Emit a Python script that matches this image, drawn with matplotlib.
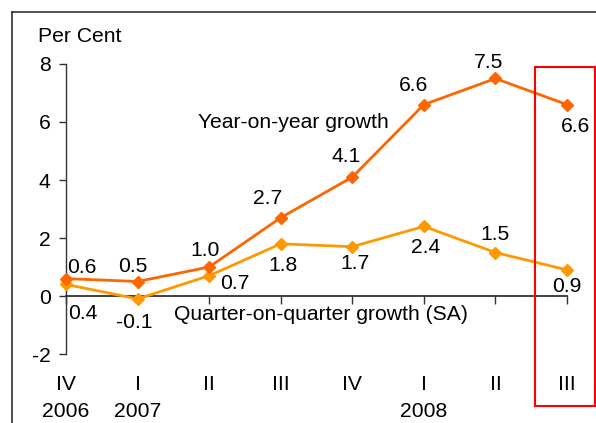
import matplotlib
matplotlib.use("Agg")
import matplotlib.pyplot as plt
from matplotlib.lines import Line2D
from matplotlib.patches import Rectangle

plt.rcParams['font.family'] = ['Liberation Sans', 'DejaVu Sans']

quarters = ["IV", "I", "II", "III", "IV", "I", "II", "III"]
years = {0: "2006", 1: "2007", 5: "2008"}
yoy = [0.6, 0.5, 1.0, 2.7, 4.1, 6.6, 7.5, 6.6]
qoq = [0.4, -0.1, 0.7, 1.8, 1.7, 2.4, 1.5, 0.9]

# label offsets in pixels (dx, dy) relative to points
yoy_off = [(16, 11), (-5, 15), (-4, 16), (-13, 19), (-6, 21), (-10, 19), (-7, 16), (8, -22)]
qoq_off = [(17, -29), (-3, -24), (26, -8), (2, -22), (3, -17), (2, -21), (0, 18), (0, -17)]

W, H = 596, 423
fig = plt.figure(figsize=(W / 100, H / 100), dpi=100)
ax = fig.add_axes([66 / W, 1 - 354 / H, (567 - 66) / W, (354 - 64) / H])

x = list(range(len(quarters)))
c_yoy = "#FF6600"
c_qoq = "#FF9900"
ax.plot(x, qoq, color=c_qoq, lw=2.0, marker="D", ms=6.5, clip_on=False, zorder=3)
ax.plot(x, yoy, color=c_yoy, lw=2.0, marker="D", ms=6.5, clip_on=False, zorder=4)

fs = 15.2
px2pt = 72 / 100
for xi, v, (dx, dy) in zip(x, yoy, yoy_off):
    ax.annotate(f"{v:.1f}", (xi, v), xytext=(dx * px2pt, dy * px2pt), textcoords="offset points",
                ha="center", va="center", fontsize=fs, zorder=5)
for xi, v, (dx, dy) in zip(x, qoq, qoq_off):
    ax.annotate(f"{v:.1f}", (xi, v), xytext=(dx * px2pt, dy * px2pt), textcoords="offset points",
                ha="center", va="center", fontsize=fs, zorder=5)

ax.set_xlim(0, len(quarters) - 1)
ax.set_ylim(-2, 8)
ax.set_yticks([-2, 0, 2, 4, 6, 8])
ax.set_yticklabels(["-2", "0", "2", "4", "6", "8"], fontsize=fs)
ax.set_xticks(x)
ax.set_xticklabels([])
for s in ["top", "right"]:
    ax.spines[s].set_visible(False)
ax.spines["bottom"].set_position(("data", 0))
ax.spines["bottom"].set_color("#333333")
ax.spines["left"].set_color("#333333")
ax.spines["bottom"].set_linewidth(1.3)
ax.spines["left"].set_linewidth(1.0)
ax.tick_params(axis="y", length=5, width=1, color="#333333", pad=6)
ax.tick_params(axis="x", length=6, width=1, color="#333333", direction="out")

# category labels below
for xi, q in zip(x, quarters):
    fig.text((66 + xi * (567 - 66) / 7) / W, 1 - 384 / H, q, ha="center", va="center", fontsize=fs)
for xi, yr in years.items():
    fig.text((66 + xi * (567 - 66) / 7) / W, 1 - 411 / H, yr, ha="center", va="center", fontsize=fs)

fig.text(38 / W, 1 - 37 / H, "Per Cent", ha="left", va="center", fontsize=fs)
fig.text(293 / W, 1 - 123 / H, "Year-on-year growth", ha="center", va="center", fontsize=fs)
fig.text(321 / W, 1 - 314 / H, "Quarter-on-quarter growth (SA)", ha="center", va="center", fontsize=fs)

# outer frame
fig.add_artist(Line2D([12 / W, 12 / W], [0, 1 - 12 / H], transform=fig.transFigure, color="#333333", lw=1.2))
fig.add_artist(Line2D([12 / W, 1], [1 - 12 / H, 1 - 12 / H], transform=fig.transFigure, color="#333333", lw=1.2))

# red highlight box
fig.add_artist(Rectangle((535 / W, 1 - 406 / H), (595 - 535) / W, (406 - 67) / H,
                         transform=fig.transFigure, fill=False, edgecolor="#FF0000", lw=1.5))

fig.savefig("out.png", dpi=100)
